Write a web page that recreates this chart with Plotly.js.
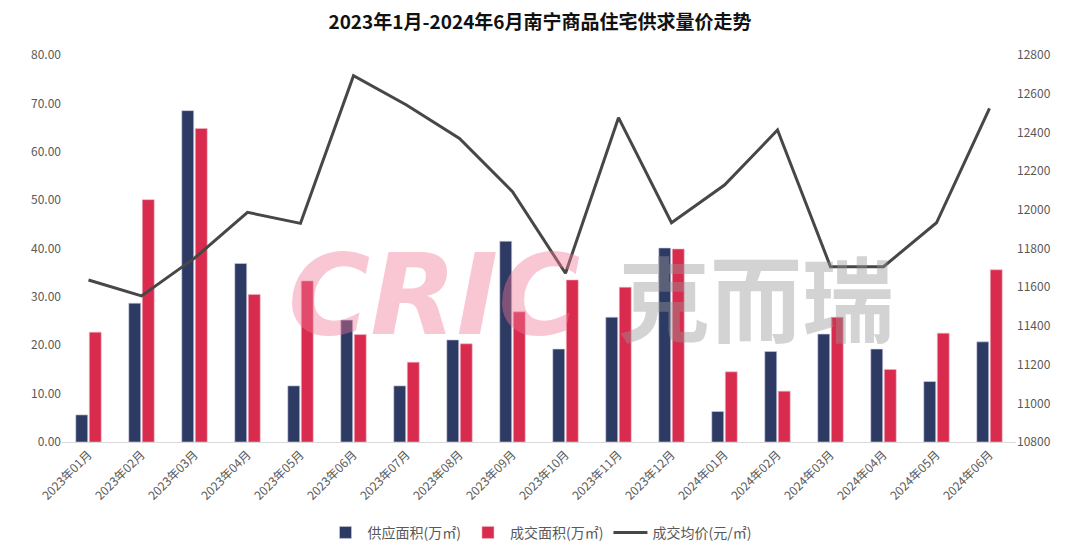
<!DOCTYPE html>
<html>
<head>
<meta charset="utf-8">
<script src="https://cdn.plot.ly/plotly-3.0.1.min.js"></script>
<style>html,body{margin:0;padding:0;background:#fff;}#chart{width:1080px;height:551px;}</style>
</head>
<body>
<div id="chart"></div>
<script>
const months = ["2023年01月","2023年02月","2023年03月","2023年04月","2023年05月","2023年06月","2023年07月","2023年08月","2023年09月","2023年10月","2023年11月","2023年12月","2024年01月","2024年02月","2024年03月","2024年04月","2024年05月","2024年06月"];
const supplyArea = [5.6,28.7,68.5,36.9,11.6,25.2,11.6,21.1,41.5,19.2,25.8,40.1,6.3,18.7,22.3,19.2,12.5,20.7];
const dealArea = [22.7,50.1,64.8,30.5,33.3,22.2,16.5,20.3,26.9,33.5,32.0,39.9,14.5,10.5,25.8,15.0,22.5,35.6];
const avgPrice = [11637,11555,11750,11987,11930,12693,12542,12369,12094,11672,12476,11933,12128,12412,11706,11706,11933,12524];
const leftTicks = [0,10,20,30,40,50,60,70,80];
const rightTicks = [10800,11000,11200,11400,11600,11800,12000,12200,12400,12600,12800];

const font = "'Noto Sans CJK SC', 'Noto Sans', sans-serif";
const traces = [
  {type:"bar", name:"供应面积(万㎡)", x:months, y:supplyArea, marker:{color:"#2D3A63", line:{color:"#c9cde0", width:0.6}}},
  {type:"bar", name:"成交面积(万㎡)", x:months, y:dealArea, marker:{color:"#D92B4E", line:{color:"#f0b6c3", width:0.6}}},
  {type:"scatter", mode:"lines", name:"成交均价(元/㎡)", x:months, y:avgPrice, yaxis:"y2", line:{color:"#474747", width:3}}
];
const layout = {
  width:1080, height:551,
  margin:{l:62, r:64, t:55, b:109},
  paper_bgcolor:"#fff", plot_bgcolor:"rgba(0,0,0,0)",
  font:{family:font, color:"#595959", size:12},
  title:{text:"<b>2023年1月-2024年6月南宁商品住宅供求量价走势</b>", x:0.5, xanchor:"center", y:0.96, yanchor:"middle", font:{family:font, size:19, color:"#111"}},
  barmode:"group", bargap:0.49, bargroupgap:0.12,
  xaxis:{type:"category", tickangle:-45, showgrid:false, showline:true, linecolor:"#d9d9d9", linewidth:1, ticks:"", tickfont:{size:12, color:"#595959"}, automargin:false},
  yaxis:{range:[0,80], tickvals:leftTicks, tickformat:".2f", showgrid:false, zeroline:false, showline:false, ticks:"", tickfont:{size:12, color:"#595959"}, automargin:false},
  yaxis2:{overlaying:"y", side:"right", range:[10800,12800], tickvals:rightTicks, tickformat:"d", showgrid:false, zeroline:false, showline:false, ticks:"", tickfont:{size:12, color:"#595959"}, automargin:false},
  legend:{orientation:"h", x:0.5, xanchor:"center", xref:"container", yref:"container", y:0.033, yanchor:"middle", font:{size:14, color:"#595959"}, traceorder:"normal", itemwidth:34},
  annotations:[
    {text:"<b><i>CRIC</i></b>", xref:"paper", yref:"paper", x:0.39, y:0.38, xanchor:"center", yanchor:"middle", showarrow:false, font:{family:"'DejaVu Sans', sans-serif", size:112, color:"rgba(240,120,150,0.42)"}},
    {text:"<b>克而瑞</b>", xref:"paper", yref:"paper", x:0.727, y:0.38, xanchor:"center", yanchor:"middle", showarrow:false, font:{family:font, size:92, color:"rgba(150,150,150,0.42)"}}
  ]
};
Plotly.newPlot("chart", traces, layout, {displayModeBar:false, staticPlot:true});
</script>
</body>
</html>
